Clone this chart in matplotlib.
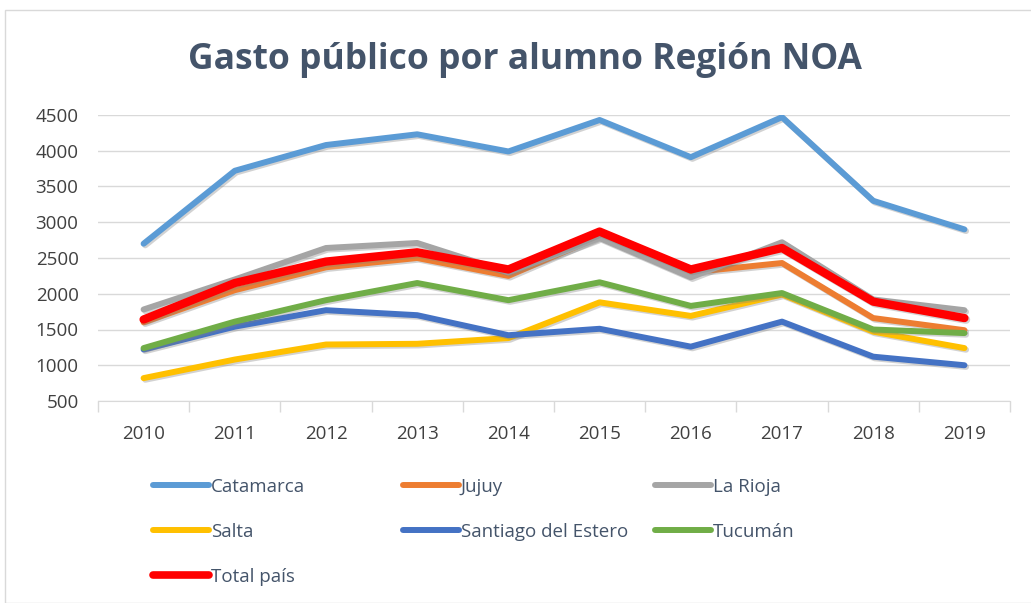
import matplotlib.pyplot as plt
import matplotlib.patheffects as pe
from matplotlib.patches import Rectangle
import numpy as np

years = ["2010", "2011", "2012", "2013", "2014", "2015", "2016", "2017", "2018", "2019"]

catamarca = [2700, 3720, 4080, 4230, 3990, 4430, 3910, 4470, 3300, 2900]
jujuy = [1600, 2050, 2370, 2500, 2250, 2800, 2300, 2430, 1660, 1490]
la_rioja = [1780, 2200, 2640, 2710, 2300, 2780, 2230, 2720, 1920, 1770]
salta = [820, 1080, 1290, 1300, 1380, 1880, 1690, 1990, 1470, 1240]
santiago = [1220, 1540, 1770, 1700, 1420, 1510, 1260, 1610, 1120, 1000]
tucuman = [1240, 1610, 1910, 2150, 1910, 2160, 1830, 2010, 1500, 1450]
total_pais = [1640, 2150, 2450, 2580, 2340, 2870, 2340, 2640, 1890, 1660]

series = [
    ("Catamarca", catamarca, "#5B9BD5", 4.3),
    ("Jujuy", jujuy, "#ED7D31", 4.3),
    ("La Rioja", la_rioja, "#A5A5A5", 4.3),
    ("Salta", salta, "#FFC000", 4.3),
    ("Santiago del Estero", santiago, "#4472C4", 4.3),
    ("Tucumán", tucuman, "#70AD47", 4.3),
    ("Total país", total_pais, "#FF0000", 6.0),
]

text_col = "#44546A"
plt.rcParams['font.family'] = ['Open Sans', 'DejaVu Sans']

fig = plt.figure(figsize=(10.31, 6.03), dpi=100)
fig.patches.append(Rectangle((5 / 1031, 0), 1, 1 - 10 / 603, transform=fig.transFigure,
                             fill=False, edgecolor="#D9D9D9", lw=1))

ax = fig.add_axes([98 / 1031, 1 - 401 / 603, (1010 - 98) / 1031, (401 - 115) / 603])
x = np.arange(len(years))
shadow = [pe.SimpleLineShadow(offset=(1.2, -1.2), shadow_color="gray", alpha=0.35), pe.Normal()]
lines = {}
for name, vals, col, lw in series:
    ln, = ax.plot(x, vals, color=col, lw=lw, label=name, solid_capstyle="round",
                  solid_joinstyle="round", path_effects=shadow)
    lines[name] = ln

ax.set_xlim(-0.5, 9.5)
ax.set_ylim(500, 4500)
ax.set_yticks(range(500, 4501, 500))
ax.set_xticks(x)
ax.set_xticklabels(years)
ax.set_xticks(np.arange(-0.5, 10, 1), minor=True)
ax.tick_params(axis="x", which="major", length=0, pad=17, labelsize=13.5, labelcolor="#404040")
ax.tick_params(axis="x", which="minor", length=8, color="#D9D9D9", width=1)
ax.tick_params(axis="y", length=0, pad=14, labelsize=13.5, labelcolor="#404040")
ax.grid(axis="y", color="#D9D9D9", lw=1)
ax.set_axisbelow(True)
for s in ["top", "right", "left"]:
    ax.spines[s].set_visible(False)
ax.spines["bottom"].set_color("#D9D9D9")

fig.text(525 / 1031, 1 - 60 / 603, "Gasto público por alumno Región NOA", ha="center", va="center",
         fontsize=25.5, fontweight="bold", color=text_col)

# legend laid out as three columns, filled row by row
columns = [["Catamarca", "Salta", "Total país"],
           ["Jujuy", "Santiago del Estero"],
           ["La Rioja", "Tucumán"]]
col_x = [147, 397, 649]
for names, cx in zip(columns, col_x):
    leg = fig.legend([lines[n] for n in names], names, loc="upper left",
                     bbox_to_anchor=(cx / 1031, 1 - 472 / 603), frameon=False,
                     fontsize=13.5, handlelength=3.0, handletextpad=0.1,
                     labelspacing=1.45, borderaxespad=0, borderpad=0.3)
    for t in leg.get_texts():
        t.set_color(text_col)
    for h in leg.get_lines():
        h.set_path_effects([])
        h.set_linewidth(5.5 if h.get_color() == "#FF0000" else 4.3)

fig.savefig("out.png", dpi=100)
